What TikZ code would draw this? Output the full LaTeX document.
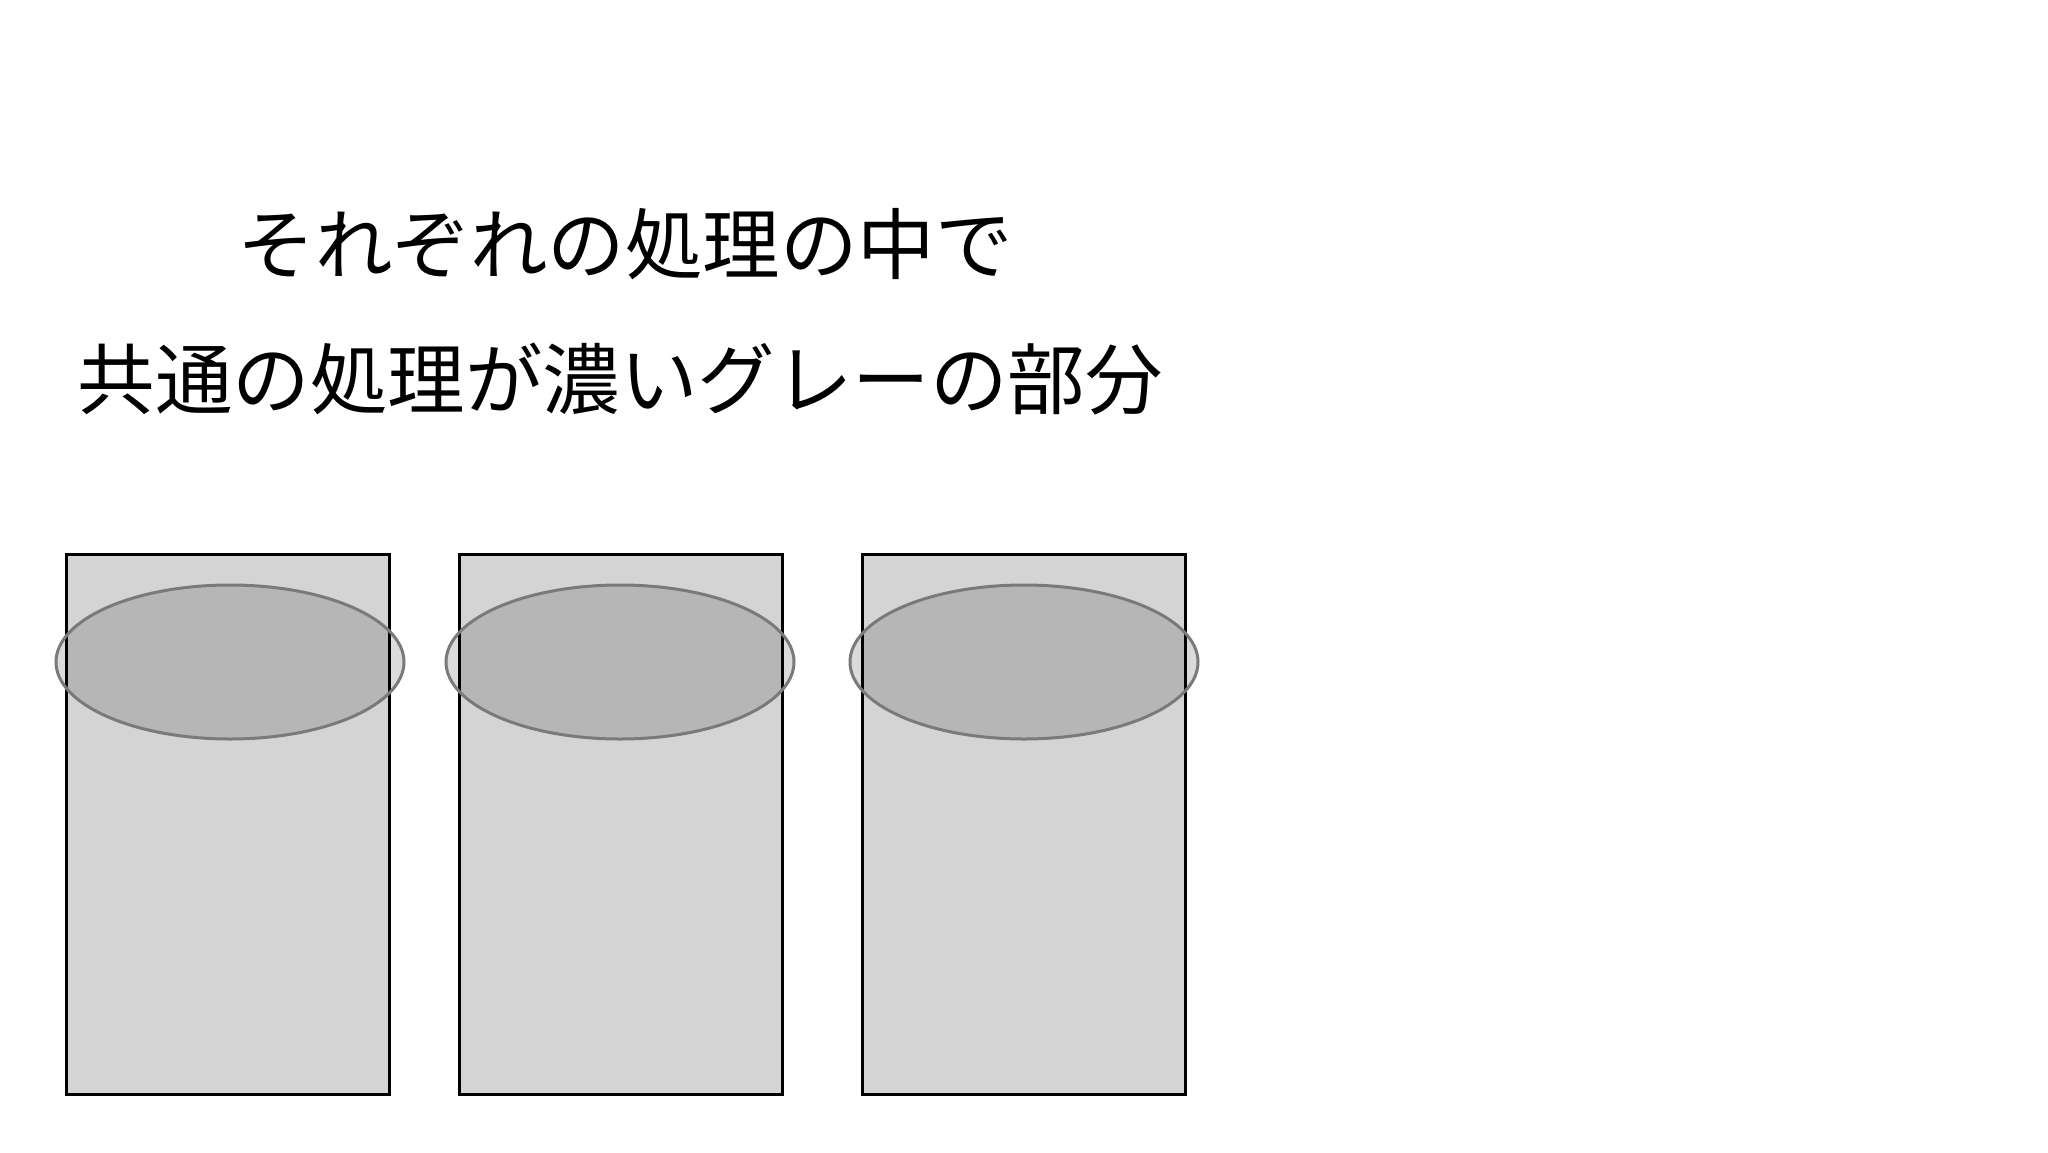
\documentclass[tikz,border=0pt]{standalone}
\usepackage{fontspec}
\setmainfont{Noto Sans CJK JP}
\usetikzlibrary{shapes.geometric}
\definecolor{boxfill}{HTML}{D4D4D4}
\definecolor{ringline}{HTML}{7A7A7A}
\tikzset{
  procbox/.style={draw=black, line width=3pt, fill=boxfill, minimum width=323pt, minimum height=540pt, inner sep=0pt, outer sep=0pt},
  common/.style={ellipse, draw=ringline, line width=3pt, fill=black, fill opacity=0.14, draw opacity=1, minimum width=348pt, minimum height=154pt, inner sep=0pt},
  caption/.style={font=\fontsize{77.5}{90}\selectfont, inner sep=0pt, anchor=center}
}
\begin{document}
\begin{tikzpicture}[x=1pt,y=-1pt]
\useasboundingbox[fill=white] (0,0) rectangle (2048,1152);
\node[caption] (t1) at (625,244) {それぞれの処理の中で};
\node[caption] (t2) at (620,379) {共通の処理が濃いグレーの部分};
\node[procbox] (b1) at (228,824) {};
\node[procbox] (b2) at (621,824) {};
\node[procbox] (b3) at (1023.5,824) {};
\node[common] (e1) at (230,662) {};
\node[common] (e2) at (620,662) {};
\node[common] (e3) at (1024,662) {};
\end{tikzpicture}
\end{document}
